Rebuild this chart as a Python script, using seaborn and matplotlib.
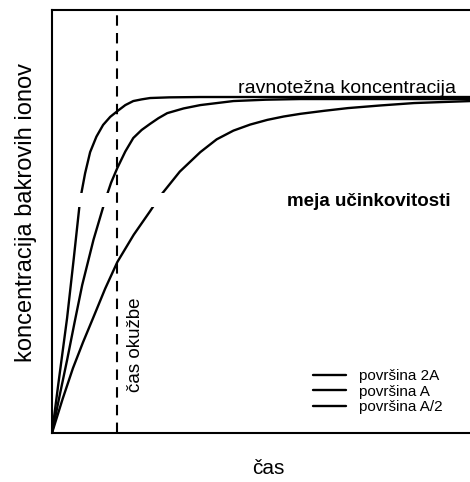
import matplotlib
matplotlib.use("Agg")
import matplotlib.pyplot as plt
import seaborn as sns
import pandas as pd

# time (0-100) vs. concentration (% of equilibrium)
t_2a = [0, 1.5, 3.6, 5.2, 6.7, 7.9, 9.1, 10.6, 12.2, 13.9, 15.6, 17.5, 19.4,
        21.4, 23.4, 28.0, 35.4, 100]
c_2a = [0, 14.5, 34.2, 52.0, 69.3, 77.3, 83.6, 88.2, 91.7, 94.1, 95.8, 97.6,
        98.8, 99.3, 99.7, 99.9, 100, 100]

t_a = [0, 1.8, 3.6, 5.4, 7.2, 9.9, 12.7, 14.1, 15.6, 17.5, 19.4, 21.4, 23.4,
       25.4, 27.5, 31.4, 35.4, 43.3, 51.0, 59.3, 100]
c_a = [0, 11.0, 21.7, 33.0, 44.0, 57.5, 69.3, 74.5, 78.9, 83.8, 87.8, 90.2,
       92.0, 93.7, 95.2, 96.6, 97.6, 98.8, 99.2, 99.4, 99.4]

t_a2 = [0, 2.5, 5.0, 7.4, 9.8, 12.7, 15.6, 19.5, 23.4, 25.8, 30.5, 35.4, 39.3,
        43.3, 47.3, 51.4, 55.3, 59.3, 65.0, 70.6, 78.5, 86.4, 93.0, 100]
c_a2 = [0, 10.0, 19.3, 27.0, 34.2, 43.0, 50.9, 59.0, 66.0, 70.5, 77.8, 83.6,
        87.4, 90.0, 91.8, 93.2, 94.2, 95.0, 95.9, 96.7, 97.5, 98.2, 98.5, 98.8]

labels = ["površina 2A", "površina A", "površina A/2"]
infection_time = 15.6
limit_band = (67.3, 71.4)

df = pd.concat([
    pd.DataFrame({"t": t_2a, "c": c_2a, "series": labels[0]}),
    pd.DataFrame({"t": t_a, "c": c_a, "series": labels[1]}),
    pd.DataFrame({"t": t_a2, "c": c_a2, "series": labels[2]}),
])

sns.set_style("white")
plt.rcParams["font.family"] = ["Liberation Sans", "DejaVu Sans"]
plt.rcParams["text.color"] = "black"

fig = plt.figure(figsize=(4.7, 4.82), dpi=100)
ax = fig.add_axes([52 / 470, 49 / 482, 419 / 470, 423 / 482])

sns.lineplot(data=df, x="t", y="c", hue="series", estimator=None, sort=False,
             palette=["black"] * 3, linewidth=1.7, ax=ax, zorder=2)

# the invisible "meja učinkovitosti" line cuts the curves
ax.axhspan(*limit_band, color="white", zorder=3, lw=0)
ax.axvline(infection_time, color="black", lw=1.5, dashes=(5, 3.5), zorder=4)

ax.set_xlim(0, 100)
ax.set_ylim(0, 125.9)
ax.set_xticks([])
ax.set_yticks([])
ax.set_xlabel("")
ax.set_ylabel("")
for side in ["left", "bottom", "top"]:
    ax.spines[side].set_color("black")
    ax.spines[side].set_linewidth(1.5)
    ax.spines[side].set_zorder(6)
ax.spines["right"].set_visible(False)

ax.text(44.3, 102.5, "ravnotežna koncentracija", fontsize=14, ha="left", va="center")
ax.text(56.2, 69.0, "meja učinkovitosti", fontsize=13.5, fontweight="bold",
        ha="left", va="center")
ax.text(19.9, 26.2, "čas okužbe", fontsize=13.5, rotation=90, ha="center", va="center")

fig.text(26 / 470, 1 - 213 / 482, "koncentracija bakrovih ionov", fontsize=17,
         rotation=90, ha="center", va="center")
fig.text(268 / 470, 1 - 469 / 482, "čas", fontsize=15, ha="center", va="center")

handles, lbls = ax.get_legend_handles_labels()
ax.legend(handles, lbls, loc="upper left", bbox_to_anchor=(0.624, 0.151),
          frameon=False, fontsize=11, borderpad=0, borderaxespad=0,
          labelspacing=0.1, handlelength=2.1, handletextpad=0.9)

fig.savefig("out.png", dpi=100)
